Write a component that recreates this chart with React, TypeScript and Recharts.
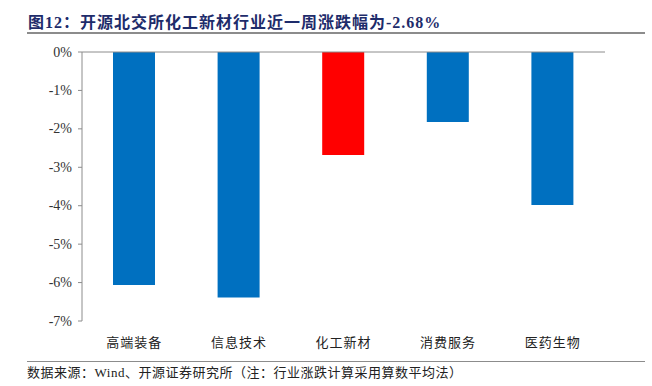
import React from 'react';
import { BarChart, Bar, XAxis, YAxis, Cell } from 'recharts';

const categories = ['高端装备', '信息技术', '化工新材', '消费服务', '医药生物'];
const changes = [-6.06, -6.39, -2.68, -1.82, -3.98];
const barColors = ['#0070C0', '#0070C0', '#FF0000', '#0070C0', '#0070C0'];
const yTicks = [-7, -6, -5, -4, -3, -2, -1, 0];
const boundaryTicks = [0, 1, 2, 3, 4, 5];

const data = categories.map((name, i) => ({ name, value: changes[i] }));

const cjk = '"Noto Sans CJK SC", sans-serif';
const serif = '"Liberation Serif", "Times New Roman", serif';

// y tick label in a Times-like face, as in the original
function YTick(props: any) {
  const { x, y, payload } = props;
  return (
    <text x={x} y={y} dy={4.5} textAnchor="end" fontFamily={serif} fontSize={14} fill="#333">
      {`${payload.value}%`}
    </text>
  );
}

function XTick(props: any) {
  const { x, y, payload } = props;
  return (
    <text x={x} y={y} dy={14} textAnchor="middle" fontFamily={cjk} fontSize={13} letterSpacing={1} fill="#222">
      {payload.value}
    </text>
  );
}

export default function App() {
  return (
    <div style={{ position: 'absolute', left: 0, top: 0, width: 652, height: 386, background: '#fff' }}>
      <div
        style={{
          position: 'absolute', left: 28, top: 9, fontFamily: cjk, fontWeight: 700,
          fontSize: 16, letterSpacing: 1, color: '#1E2C6B', whiteSpace: 'nowrap', lineHeight: '24px',
        }}
      >
        图<span style={{ fontFamily: serif }}>12</span>：开源北交所化工新材行业近一周涨跌幅为
        <span style={{ fontFamily: serif }}>-2.68%</span>
      </div>
      <div style={{ position: 'absolute', left: 27, top: 32, width: 618, height: 2, background: '#8C8C8C' }} />

      <div style={{ position: 'absolute', left: 0, top: 0 }}>
        <BarChart width={652} height={386} data={data} margin={{ top: 46, right: 47, bottom: 35, left: 22 }}>
          <XAxis
            xAxisId="top"
            orientation="top"
            type="number"
            domain={[0, 5]}
            ticks={boundaryTicks}
            tick={false}
            tickSize={4}
            height={6}
            stroke="#8C8C8C"
          />
          <XAxis
            dataKey="name"
            axisLine={false}
            tickLine={false}
            height={30}
            tickMargin={6}
            tick={<XTick />}
          />
          <YAxis
            domain={[-7, 0]}
            ticks={yTicks}
            width={60}
            tickSize={4}
            tickMargin={6}
            stroke="#8C8C8C"
            tick={<YTick />}
          />
          <Bar dataKey="value" barSize={42} isAnimationActive={false}>
            {data.map((d, i) => (
              <Cell key={d.name} fill={barColors[i]} />
            ))}
          </Bar>
        </BarChart>
      </div>

      <div style={{ position: 'absolute', left: 27, top: 361, width: 618, height: 1, background: '#8C8C8C' }} />
      <div
        style={{
          position: 'absolute', left: 27, top: 362, fontFamily: cjk, fontSize: 13, letterSpacing: 0.5,
          color: '#222', whiteSpace: 'nowrap', lineHeight: '20px',
        }}
      >
        数据来源：<span style={{ fontFamily: serif }}>Wind</span>、开源证券研究所（注：行业涨跌计算采用算数平均法）
      </div>
    </div>
  );
}
